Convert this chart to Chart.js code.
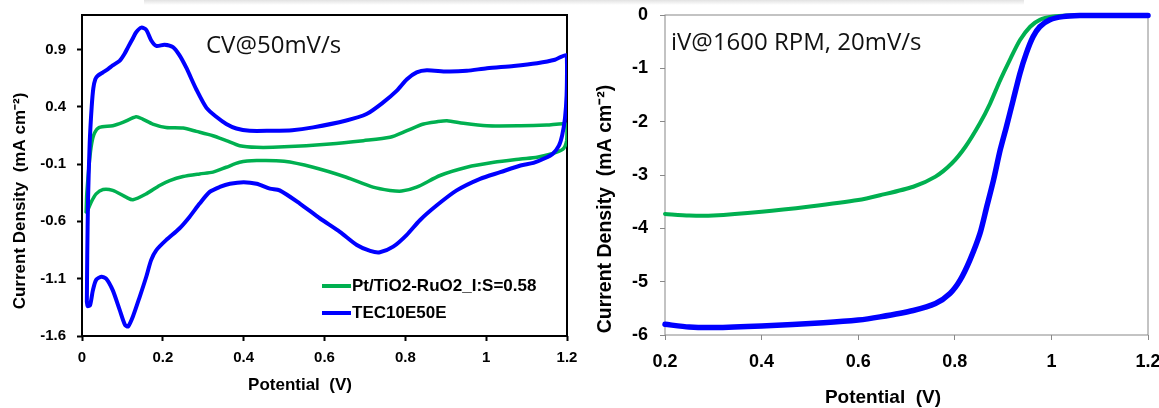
<!DOCTYPE html>
<html lang="en">
<head>
<meta charset="UTF-8">
<title>CV and iV curves</title>
<script src="https://cdn.jsdelivr.net/npm/chart.js"></script>
<style>
  html, body { margin: 0; padding: 0; background: #fff; overflow: hidden; }
  body { width: 1159px; height: 408px; position: relative; }
  .panel { position: absolute; top: 0; }
  #cvBox { left: 0; }
  #lsvBox { left: 580px; }
  .shade { position: absolute; left: 144px; top: 0; width: 880px; height: 5px; background: linear-gradient(#e2e2e2, #fff); }
</style>
</head>
<body>
<div class="shade"></div>
<div class="panel" id="cvBox"><canvas id="cvChart" width="580" height="408"></canvas></div>
<div class="panel" id="lsvBox"><canvas id="lsvChart" width="600" height="430"></canvas></div>

<script>
// series names (legend order)
const seriesNames = ['Pt/TiO2-RuO2_I:S=0.58', 'TEC10E50E'];

// CV @ 50 mV/s, Pt/TiO2-RuO2 (green) - full loop, potential in V
const cvPtV = [0.0103, 0.012, 0.0186, 0.024, 0.031, 0.043, 0.076, 0.101, 0.134, 0.150, 0.175, 0.208, 0.25, 0.283,
  0.324, 0.357, 0.39, 0.432, 0.5, 0.613, 0.696, 0.762, 0.804, 0.845, 0.878, 0.903, 0.944, 1.002, 1.085, 1.15,
  1.197, 1.2, 1.199, 1.19, 1.163, 1.126, 1.085, 1.019, 0.952, 0.886, 0.828, 0.791, 0.762, 0.72, 0.654, 0.572,
  0.5, 0.432, 0.39, 0.357, 0.324, 0.291, 0.25, 0.217, 0.192, 0.159, 0.126, 0.109, 0.076, 0.052, 0.035, 0.023,
  0.014, 0.0103];
const cvPtJ = [-0.518, -0.35, -0.07, 0.08, 0.17, 0.219, 0.234, 0.263, 0.312, 0.292, 0.249, 0.219, 0.214, 0.185,
  0.147, 0.104, 0.06, 0.046, 0.05, 0.075, 0.104, 0.133, 0.191, 0.249, 0.269, 0.278, 0.255, 0.234, 0.234, 0.24,
  0.25, 0.2, 0.1, 0.03, -0.01, -0.04, -0.056, -0.085, -0.128, -0.2, -0.302, -0.336, -0.33, -0.302, -0.215, -0.128,
  -0.076, -0.07, -0.085, -0.128, -0.171, -0.186, -0.209, -0.244, -0.287, -0.36, -0.412, -0.389, -0.33, -0.322, -0.36, -0.43,
  -0.504, -0.518];

// CV @ 50 mV/s, TEC10E50E (blue)
const cvTecV = [0.012, 0.013, 0.015, 0.019, 0.024, 0.028, 0.033, 0.039, 0.052, 0.065, 0.076, 0.093, 0.105, 0.114,
  0.125, 0.134, 0.147, 0.159, 0.171, 0.184, 0.204, 0.225, 0.241, 0.258, 0.283, 0.308, 0.333, 0.357, 0.382, 0.415,
  0.465, 0.52, 0.572, 0.654, 0.704, 0.746, 0.779, 0.804, 0.828, 0.853, 0.903, 0.952, 1.002, 1.068, 1.126, 1.17,
  1.198, 1.2, 1.199, 1.195, 1.188, 1.18, 1.165, 1.145, 1.117, 1.085, 1.035, 0.985, 0.927, 0.878, 0.836, 0.803,
  0.770, 0.737, 0.713, 0.680, 0.638, 0.589, 0.539, 0.489, 0.465, 0.432, 0.40, 0.366, 0.341, 0.316, 0.291, 0.266,
  0.241, 0.208, 0.184, 0.171, 0.159, 0.143, 0.126, 0.114, 0.106, 0.093, 0.076, 0.060, 0.048, 0.035, 0.027, 0.020,
  0.014, 0.012];
const cvTecJ = [-1.30, -0.9, -0.4, 0.08, 0.40, 0.56, 0.64, 0.67, 0.70, 0.73, 0.76, 0.80, 0.86, 0.92,
  0.99, 1.05, 1.09, 1.07, 0.98, 0.93, 0.94, 0.92, 0.85, 0.74, 0.55, 0.39, 0.31, 0.25, 0.21, 0.19,
  0.19, 0.195, 0.22, 0.28, 0.336, 0.44, 0.54, 0.64, 0.70, 0.718, 0.707, 0.713, 0.736, 0.756, 0.78, 0.81,
  0.85, 0.75, 0.50, 0.30, 0.15, 0.06, -0.01, -0.05, -0.09, -0.113, -0.171, -0.229, -0.33, -0.46, -0.59, -0.72,
  -0.821, -0.870, -0.858, -0.806, -0.691, -0.575, -0.445, -0.33, -0.315, -0.272, -0.258, -0.272, -0.30, -0.343, -0.445, -0.561,
  -0.662, -0.764, -0.851, -0.938, -1.083, -1.256, -1.43, -1.517, -1.50, -1.37, -1.20, -1.10, -1.083, -1.11, -1.20, -1.33,
  -1.34, -1.30];

const cvXTicks = [0, 0.2, 0.4, 0.6, 0.8, 1, 1.2];
const cvYTicks = [-1.6, -1.1, -0.6, -0.1, 0.4, 0.9];

// iV @ 1600 RPM, 20 mV/s
const lsvPtV = [0.2, 0.25, 0.3, 0.4, 0.5, 0.6, 0.645, 0.714, 0.76, 0.794, 0.822, 0.852, 0.873, 0.894, 0.914,
  0.935, 0.956, 0.976, 1.004, 1.032, 1.1, 1.2];
const lsvPtJ = [-3.73, -3.76, -3.76, -3.69, -3.59, -3.47, -3.38, -3.22, -3.03, -2.78, -2.47, -2.03, -1.66, -1.22, -0.84,
  -0.47, -0.22, -0.09, -0.03, -0.01, 0, 0];
const lsvTecV = [0.2, 0.25, 0.3, 0.4, 0.528, 0.6, 0.645, 0.714, 0.76, 0.79, 0.811, 0.831, 0.852, 0.866, 0.88,
  0.894, 0.907, 0.921, 0.935, 0.948, 0.962, 0.976, 0.997, 1.024, 1.059, 1.1, 1.2];
const lsvTecJ = [-5.80, -5.85, -5.86, -5.83, -5.77, -5.72, -5.66, -5.54, -5.41, -5.22, -4.97, -4.60, -4.10, -3.60, -3.10,
  -2.53, -2.09, -1.59, -1.09, -0.72, -0.41, -0.22, -0.09, -0.03, -0.01, -0.01, -0.01];

const lsvXTicks = [0.2, 0.4, 0.6, 0.8, 1, 1.2];
const lsvYTicks = [-6, -5, -4, -3, -2, -1, 0];

const xTitle = 'Potential  (V)';
const yTitle = 'Current Density  (mA cm\u207B\u00B2)';

const GREEN = '#00b050';
const BLUE = '#0000ff';
const AX_FONT = '"Liberation Sans", Arial, sans-serif';
const NOTE_FONT = '"Open Sans", "Noto Sans", sans-serif';

const zip = (xs, ys) => xs.map((x, i) => ({ x: x, y: ys[i] }));
const fmt = v => String(Math.round(v * 10) / 10);

// box around the plot area
const framePlugin = {
  id: 'frame',
  beforeDatasetsDraw(chart, args, opts) {
    const { ctx, chartArea: a } = chart;
    ctx.save();
    ctx.strokeStyle = opts.color;
    ctx.lineWidth = opts.width;
    ctx.strokeRect(a.left, a.top, a.right - a.left, a.bottom - a.top);
    ctx.restore();
  }
};

// free text: scan conditions + axis titles (placed like the original, not centred)
const textPlugin = {
  id: 'texts',
  afterDraw(chart, args, opts) {
    const ctx = chart.ctx;
    opts.items.forEach(t => {
      ctx.save();
      ctx.font = (t.bold ? 'bold ' : '') + t.size + 'px ' + (t.bold ? AX_FONT : NOTE_FONT);
      ctx.fillStyle = t.color || '#000';
      ctx.textAlign = t.align || 'center';
      ctx.textBaseline = 'middle';
      ctx.translate(t.x, t.y);
      if (t.rot) ctx.rotate(t.rot);
      ctx.fillText(t.text, 0, 0);
      ctx.restore();
    });
  }
};

// legend: short line + bold label
const lineLegend = {
  id: 'lineLegend',
  afterDraw(chart, args, opts) {
    if (!opts.show) return;
    const ctx = chart.ctx;
    ctx.save();
    ctx.font = 'bold 17px ' + AX_FONT;
    ctx.textBaseline = 'middle';
    seriesNames.forEach((name, i) => {
      const ds = chart.data.datasets.find(d => d.label === name);
      const y = opts.y + i * opts.gap;
      ctx.strokeStyle = ds.borderColor;
      ctx.lineWidth = 4;
      ctx.beginPath();
      ctx.moveTo(opts.x, y);
      ctx.lineTo(opts.x + opts.len, y);
      ctx.stroke();
      ctx.fillStyle = '#000';
      ctx.fillText(name, opts.x + opts.len + 1, y);
    });
    ctx.restore();
  }
};

function axis(cfg) {
  return {
    type: 'linear',
    min: cfg.min,
    max: cfg.max,
    afterBuildTicks: s => { s.ticks = cfg.ticks.map(v => ({ value: v })); },
    // fixed axis box, and no extra room for overhanging end labels
    afterFit: s => {
      if (s.isHorizontal()) { s.height = cfg.size2; s.paddingLeft = 0; s.paddingRight = 0; }
      else { s.width = cfg.size2; s.paddingTop = 0; s.paddingBottom = 0; }
    },
    border: { display: false },
    grid: { drawOnChartArea: false, tickLength: 5, tickColor: cfg.lineColor, tickWidth: cfg.tickWidth },
    ticks: {
      color: '#000', padding: cfg.pad, autoSkip: false, maxRotation: 0,
      font: { family: AX_FONT, size: cfg.size, weight: 'bold' },
      callback: v => fmt(v)
    }
  };
}

const lineStyle = { showLine: true, pointRadius: 0, tension: 0.25, borderJoinStyle: 'round', borderCapStyle: 'round' };

new Chart(document.getElementById('cvChart'), {
  type: 'scatter',
  data: {
    datasets: [
      Object.assign({ label: seriesNames[0], data: zip(cvPtV, cvPtJ), borderColor: GREEN, borderWidth: 3.5, order: 1 }, lineStyle),
      Object.assign({ label: seriesNames[1], data: zip(cvTecV, cvTecJ), borderColor: BLUE, borderWidth: 4, order: 0 }, lineStyle)
    ]
  },
  options: {
    responsive: false,
    animation: false,
    layout: { padding: { top: 15, right: 13, left: 0, bottom: 0 } },
    scales: {
      x: axis({ min: 0, max: 1.2, ticks: cvXTicks, size2: 72, lineColor: '#000', tickWidth: 2, pad: 8, size: 15 }),
      y: axis({ min: -1.6, max: 1.2, ticks: cvYTicks, size2: 82, lineColor: '#000', tickWidth: 2, pad: 11, size: 15 })
    },
    plugins: {
      legend: { display: false },
      tooltip: { enabled: false },
      frame: { color: '#000', width: 2 },
      texts: { items: [
        { text: 'CV@50mV/s', x: 206, y: 46, size: 24, align: 'left', color: '#111' },
        { text: xTitle, x: 300, y: 385, size: 17, bold: true },
        { text: yTitle, x: 20, y: 201, size: 17, bold: true, rot: -Math.PI / 2 }
      ] },
      lineLegend: { show: true, x: 322, y: 286, gap: 27, len: 29 }
    }
  },
  plugins: [framePlugin, textPlugin, lineLegend]
});

new Chart(document.getElementById('lsvChart'), {
  type: 'scatter',
  data: {
    datasets: [
      Object.assign({ label: seriesNames[0], data: zip(lsvPtV, lsvPtJ), borderColor: GREEN, borderWidth: 4, order: 1, clip: 5 }, lineStyle),
      Object.assign({ label: seriesNames[1], data: zip(lsvTecV, lsvTecJ), borderColor: BLUE, borderWidth: 5.5, order: 0, clip: 5 }, lineStyle)
    ]
  },
  options: {
    responsive: false,
    animation: false,
    layout: { padding: { top: 15, right: 32, left: 0, bottom: 0 } },
    scales: {
      x: axis({ min: 0.2, max: 1.2, ticks: lsvXTicks, size2: 95, lineColor: '#888', tickWidth: 1, pad: 11, size: 18 }),
      y: axis({ min: -6, max: 0, ticks: lsvYTicks, size2: 85, lineColor: '#888', tickWidth: 1, pad: 12, size: 18 })
    },
    plugins: {
      legend: { display: false },
      tooltip: { enabled: false },
      frame: { color: '#888', width: 1 },
      texts: { items: [
        { text: 'iV@1600 RPM, 20mV/s', x: 91, y: 43, size: 24, align: 'left', color: '#111' },
        { text: xTitle, x: 303, y: 398, size: 19, bold: true },
        { text: yTitle, x: 26, y: 209, size: 19.5, bold: true, rot: -Math.PI / 2 }
      ] },
      lineLegend: { show: false }
    }
  },
  plugins: [framePlugin, textPlugin, lineLegend]
});
</script>
</body>
</html>
